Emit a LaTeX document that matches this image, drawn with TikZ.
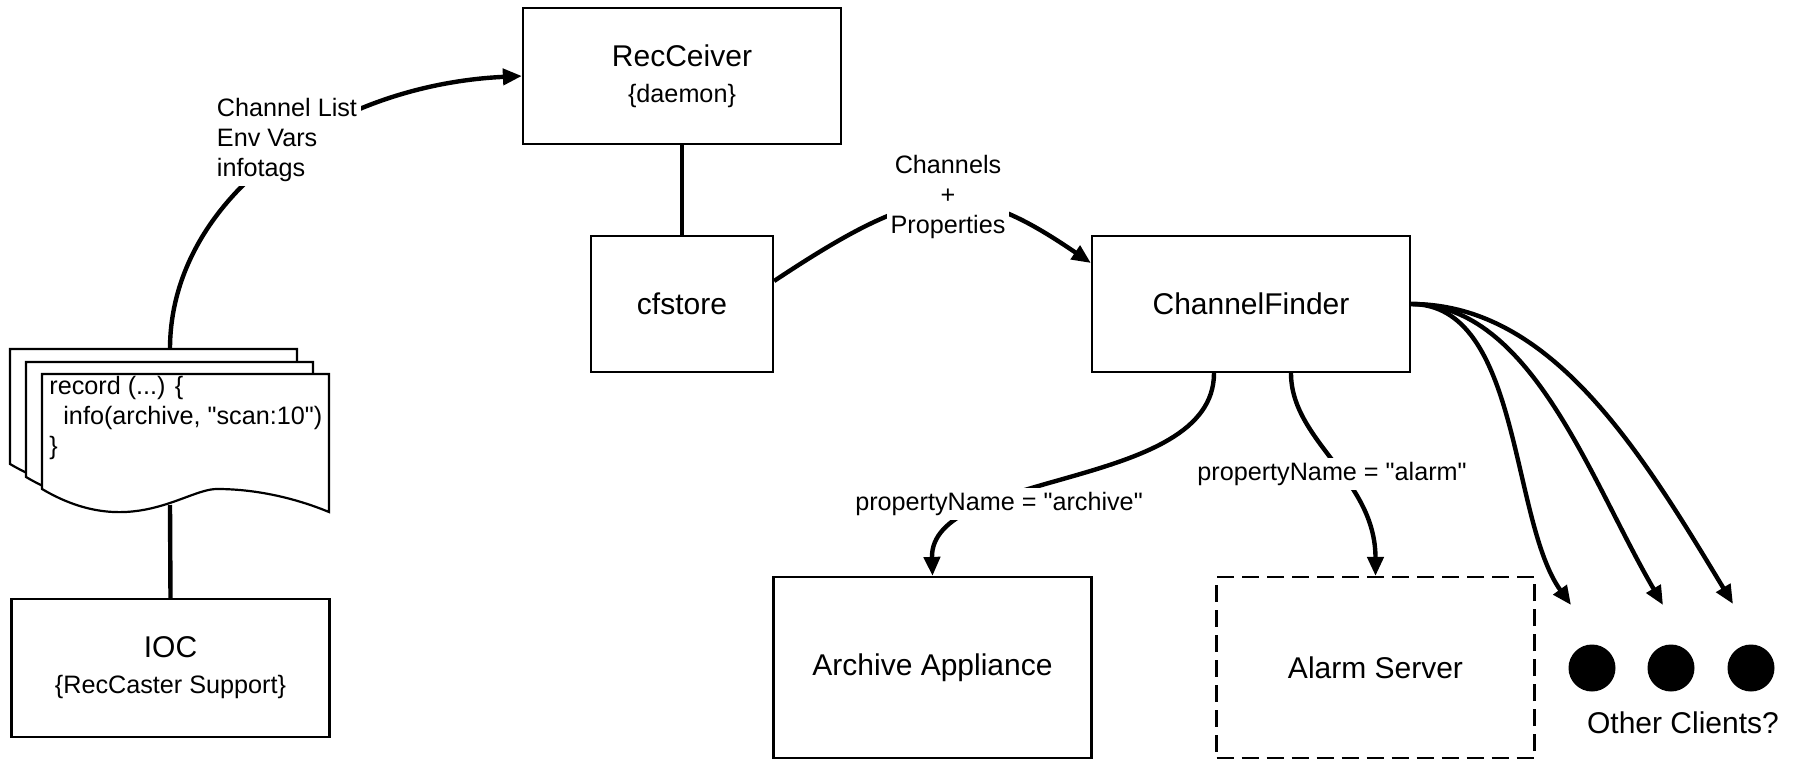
\documentclass[tikz,border=0pt]{standalone}
\usepackage{fontspec}
\setmainfont{Liberation Sans}[Ligatures=TeXOff]
\usetikzlibrary{arrows.meta,calc}
\newcommand{\boxfont}{\fontsize{15}{18}\selectfont}
\newcommand{\lblfont}{\fontsize{12.6}{15}\selectfont}
\tikzset{
  box/.style={draw,line width=1.1pt,minimum width=159pt,minimum height=68pt,align=center,font=\boxfont},
  lbl/.style={fill=white,inner sep=2pt,align=center,font=\lblfont},
  link/.style={line width=2.2pt},
  flow/.style={link,-{Triangle[length=9.5pt,width=8pt]}},
  sheet/.style={draw,line width=1.1pt,fill=white},
  client/.style={circle,fill=black,minimum size=23.5pt,inner sep=0pt},
  docpage/.pic={\draw[sheet] (0,0) -- (287,0) -- (287,138)
    .. controls (258,126) and (218,115) .. (175,115)
    .. controls (143,115) and (88,167) .. (0,115) -- cycle;}
}
\begin{document}
\begin{tikzpicture}[x=0.5pt,y=-0.5pt]
  \useasboundingbox (0,0) rectangle (1796,760);
  \pic at (10,349) {docpage};
  \pic at (26,362) {docpage};
  \pic at (42,374) {docpage};
  \node[anchor=north west,inner sep=0pt,align=left,font=\lblfont] (code) at (49,376)
    {record (...) \{\\\hspace*{7pt}info(archive, "scan:10")\\\}};
  \coordinate (stacktop) at (170,349);
  \coordinate (stackbot) at (170,505);
  \node[box,minimum height=69pt] (ioc) at (170.5,668) {IOC\\{\lblfont\{RecCaster Support\}}};
  \node[box] (recv) at (682,76) {RecCeiver\\{\lblfont\{daemon\}}};
  \node[box,minimum width=91pt] (cfs) at (682,304) {cfstore};
  \node[box] (cf) at (1251,304) {ChannelFinder};
  \node[box,minimum height=90.5pt] (arch) at (932.5,667.5) {Archive Appliance};
  \node[box,minimum height=90.5pt,dash pattern=on 8.5pt off 4pt] (alarm) at (1375.5,667.5) {Alarm Server};
  \node[client] (c1) at (1592,668) {};
  \node[client] (c2) at (1671,668) {};
  \node[client] (c3) at (1751,668) {};
  \coordinate (tip1) at (1571,605);
  \coordinate (tip2) at (1663,605);
  \coordinate (tip3) at (1733,604);
  \begin{scope}[link]
    \draw (stackbot) -- (ioc.north);
    \draw (recv.south) -- (cfs.north);
    \draw[flow] (stacktop) .. controls +(0,-149) and +(-193,9) .. (recv.west);
    \draw[flow] ($(cfs.east)+(0,-23)$) .. controls +(152,-101) and +(-122,-83) .. ($(cf.west)+(0,-41)$);
    \draw[flow] ($(cf.south)+(-37,0)$) .. controls +(0,118) and +(-3,-107) .. (arch.north);
    \draw[flow] ($(cf.south)+(40,0)$) .. controls +(0,68) and +(0,-97) .. (alarm.north);
    \draw[flow] (cf.east) .. controls +(110,0) and +(-61,-85) .. (tip1);
    \draw[flow] (cf.east) .. controls +(120,0) and +(-73,-125) .. (tip2);
    \draw[flow] (cf.east) .. controls +(140,0) and +(-93,-154) .. (tip3);
  \end{scope}
  \node[lbl,align=left] (lbllist) at (287,140) {Channel List\\Env Vars\\infotags};
  \node[lbl] (lblprops) at (948,197) {Channels\\+\\Properties};
  \node[lbl] (lblarch) at (999,504) {propertyName = "archive"};
  \node[lbl] (lblalarm) at (1332,474) {propertyName = "alarm"};
  \node[font=\boxfont] (lblother) at (1683,723) {Other Clients?};
\end{tikzpicture}
\end{document}
